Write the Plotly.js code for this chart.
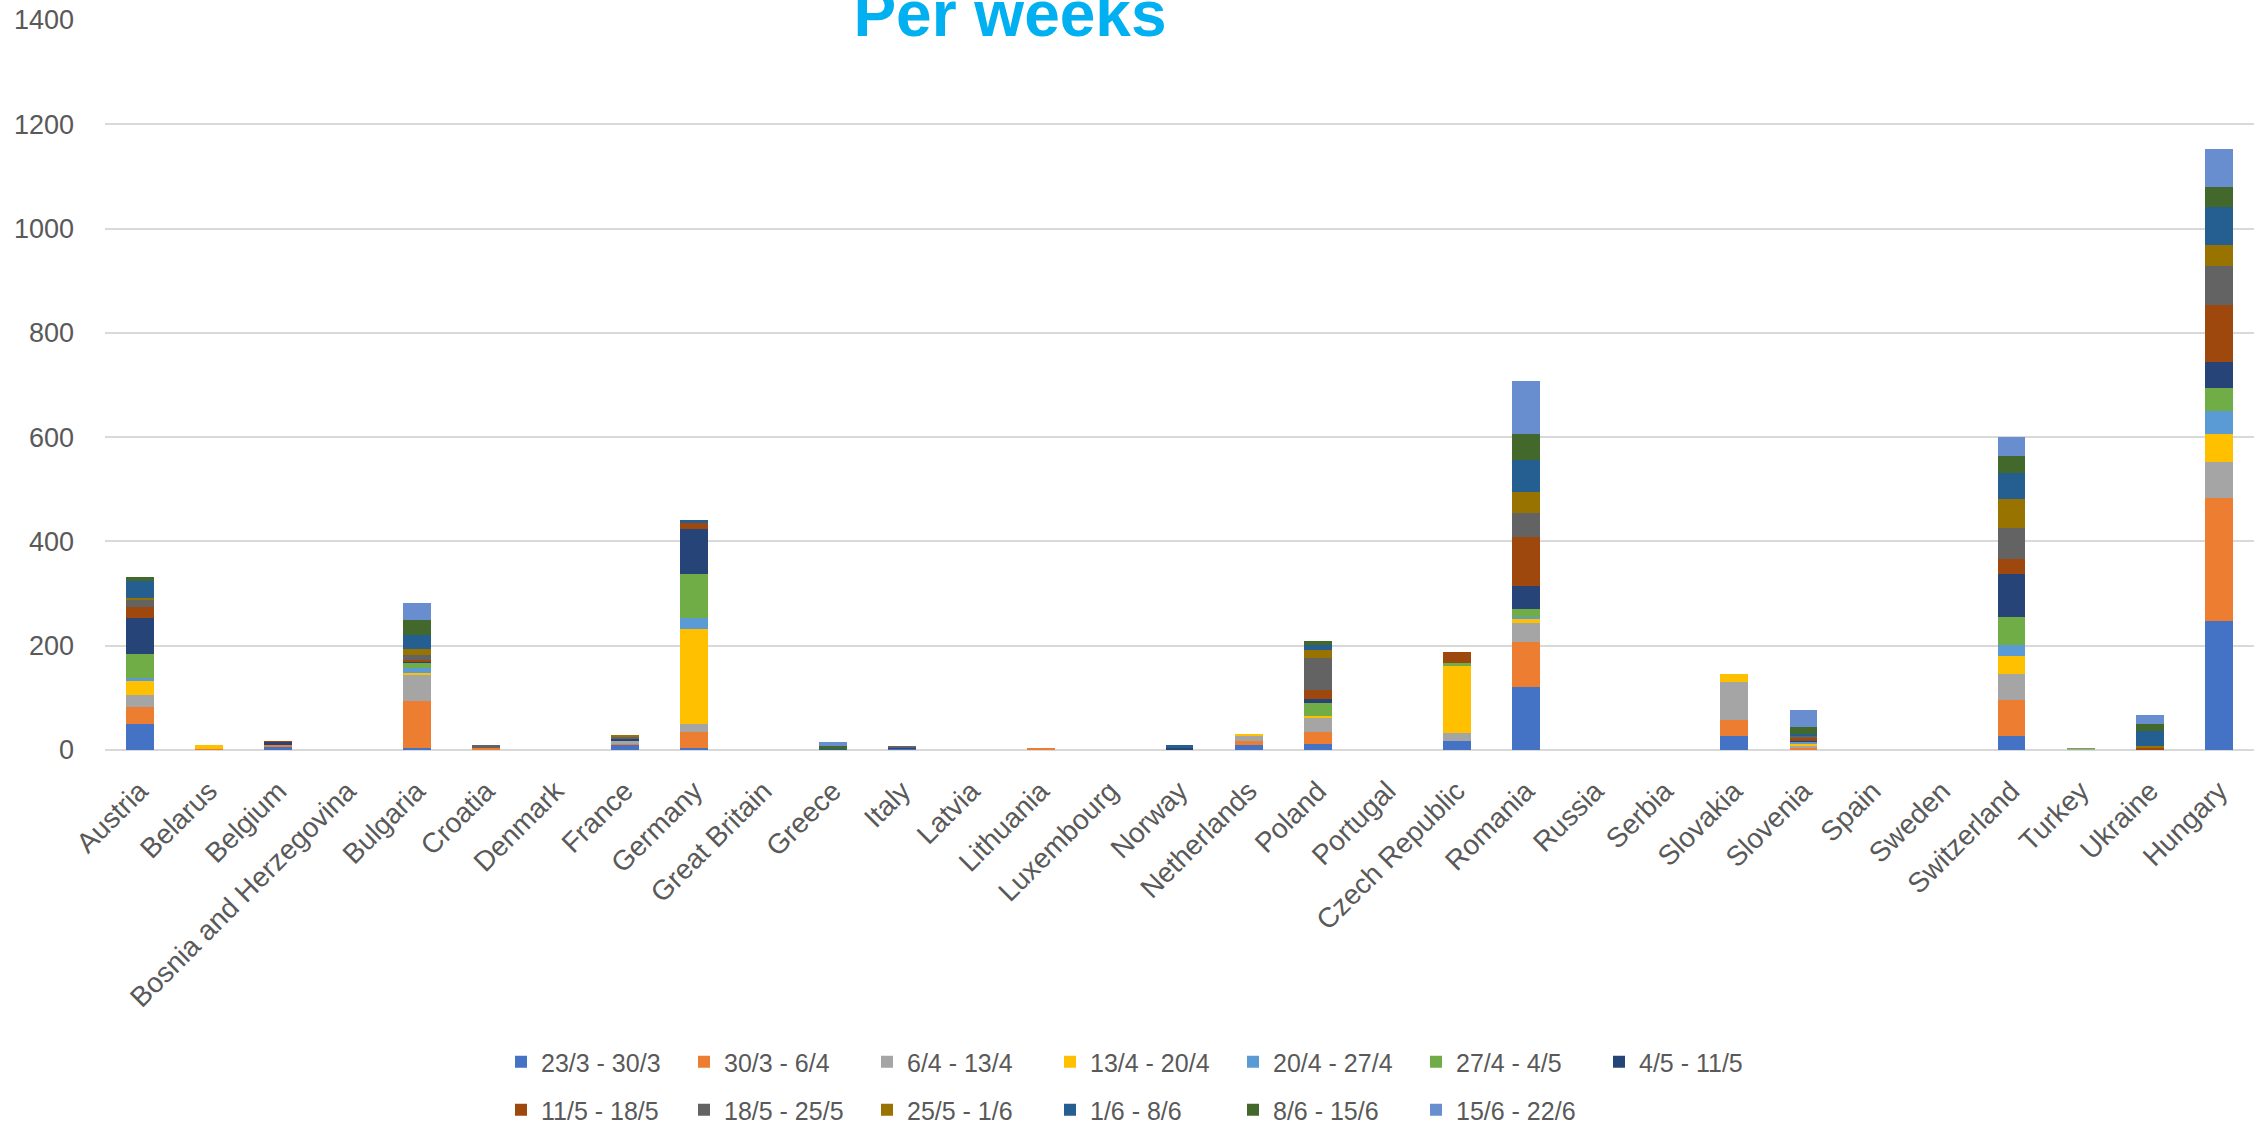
<!DOCTYPE html>
<html>
<head>
<meta charset="utf-8">
<script src="https://cdn.plot.ly/plotly-3.0.1.min.js"></script>
<style>html,body{margin:0;padding:0;background:#fff;}#chart{width:2266px;height:1132px;}</style>
</head>
<body>
<div id="chart"></div>
<script>
const countries = ["Austria","Belarus","Belgium","Bosnia and Herzegovina","Bulgaria","Croatia","Denmark","France","Germany","Great Britain","Greece","Italy","Latvia","Lithuania","Luxembourg","Norway","Netherlands","Poland","Portugal","Czech Republic","Romania","Russia","Serbia","Slovakia","Slovenia","Spain","Sweden","Switzerland","Turkey","Ukraine","Hungary"];

const weekLabels = ["23/3 - 30/3","30/3 - 6/4","6/4 - 13/4","13/4 - 20/4","20/4 - 27/4","27/4 - 4/5","4/5 - 11/5","11/5 - 18/5","18/5 - 25/5","25/5 - 1/6","1/6 - 8/6","8/6 - 15/6","15/6 - 22/6"];

const w_23_3 = [50,0,5,0,3,0,0,10,3,0,0,1,0,0,0,0,10,12,0,18,121,0,0,27,0,0,0,27,0,0,247];
const w_30_3 = [32,2,4,0,91,3,0,2,32,0,0,0,0,3,0,0,7,22,0,0,86,0,0,31,3,0,0,68,0,0,236];
const w_6_4  = [24,0,0,0,49,0,0,6,15,0,0,0,0,0,0,0,10,27,0,15,36,0,0,72,4,0,0,51,1,0,70];
const w_13_4 = [27,8,0,0,5,0,0,0,183,0,0,0,0,0,0,0,3,5,0,129,8,0,0,15,4,0,0,34,0,0,53];
const w_20_4 = [5,0,0,0,10,0,0,0,20,0,0,0,0,0,0,0,0,0,0,0,5,0,0,0,4,0,0,22,0,0,44];
const w_27_4 = [46,0,0,0,9,0,0,0,84,0,0,0,0,0,0,0,0,24,0,5,15,0,0,0,0,0,0,54,2,0,45];
const w_4_5  = [69,0,7,0,2,0,0,3,86,0,0,3,0,0,0,3,0,8,0,0,44,0,0,0,2,0,0,81,0,0,49];
const w_11_5 = [22,0,1,0,4,1,0,1,12,0,0,0,0,0,0,0,0,17,0,20,93,0,0,0,6,0,0,29,0,3,110];
const w_18_5 = [12,0,0,0,9,5,0,2,0,0,0,4,0,0,0,0,0,62,0,0,47,0,0,0,3,0,0,59,1,0,74];
const w_25_5 = [4,0,0,0,11,0,0,4,0,0,0,0,0,0,0,0,0,14,0,0,40,0,0,0,0,0,0,57,0,4,41];
const w_1_6  = [34,0,0,0,27,0,0,0,7,0,1,0,0,0,0,6,0,10,0,0,62,0,0,0,5,0,0,50,0,30,73];
const w_8_6  = [7,0,0,0,29,0,0,0,0,0,7,0,0,0,0,0,0,8,0,0,49,0,0,0,13,0,0,32,0,13,38];
const w_15_6 = [0,0,0,0,32,0,0,0,0,0,7,0,0,0,0,0,0,0,0,0,101,0,0,0,33,0,0,36,0,17,73];

const series = [w_23_3,w_30_3,w_6_4,w_13_4,w_20_4,w_27_4,w_4_5,w_11_5,w_18_5,w_25_5,w_1_6,w_8_6,w_15_6];
const colors = ["#4472C4","#ED7D31","#A5A5A5","#FFC000","#5B9BD5","#70AD47","#264478","#9E480E","#636363","#997300","#255E91","#43682B","#698ED0"];

const FONT = "Liberation Sans, Arial, sans-serif";
const GREY = "#595959";

const traces = series.map((vals, i) => ({
  type: "bar",
  name: weekLabels[i],
  x: countries,
  y: vals,
  marker: {color: colors[i], line: {width: 0}},
  legend: i < 7 ? "legend" : "legend2"
}));

const legendCommon = {
  orientation: "h",
  xref: "container",
  yref: "container",
  xanchor: "left",
  yanchor: "middle",
  x: 501 / 2266,
  entrywidth: 138,
  entrywidthmode: "pixels",
  font: {family: FONT, size: 25, color: GREY},
  bgcolor: "rgba(0,0,0,0)",
  traceorder: "normal"
};

const layout = {
  width: 2266,
  height: 1132,
  paper_bgcolor: "#ffffff",
  plot_bgcolor: "#ffffff",
  margin: {l: 105, r: 12, t: 20, b: 382, autoexpand: false},
  barmode: "stack",
  bargap: 0.6,
  font: {family: FONT, color: GREY},
  title: {
    text: "<b>Per weeks</b>",
    font: {family: FONT, size: 64, color: "#00B0F0"},
    x: 0.4457,
    xanchor: "center",
    xref: "container",
    yref: "container",
    y: 0.9876,
    yanchor: "middle"
  },
  xaxis: {
    type: "category",
    tickangle: -45,
    tickfont: {family: FONT, size: 28, color: GREY},
    showgrid: false,
    showline: false,
    ticks: "",
    ticklabelstandoff: 18,
    automargin: false
  },
  yaxis: {
    range: [0, 1400],
    dtick: 200,
    tickfont: {family: FONT, size: 27, color: GREY},
    gridcolor: "#D9D9D9",
    gridwidth: 2,
    zeroline: true,
    zerolinecolor: "#D9D9D9",
    zerolinewidth: 2,
    showline: false,
    ticks: "",
    ticklabelstandoff: 30,
    automargin: false
  },
  legend: Object.assign({}, legendCommon, {y: 1 - 1062 / 1132}),
  legend2: Object.assign({}, legendCommon, {y: 1 - 1110 / 1132}),
  showlegend: true
};

Plotly.newPlot("chart", traces, layout, {staticPlot: true, displayModeBar: false});
</script>
</body>
</html>
